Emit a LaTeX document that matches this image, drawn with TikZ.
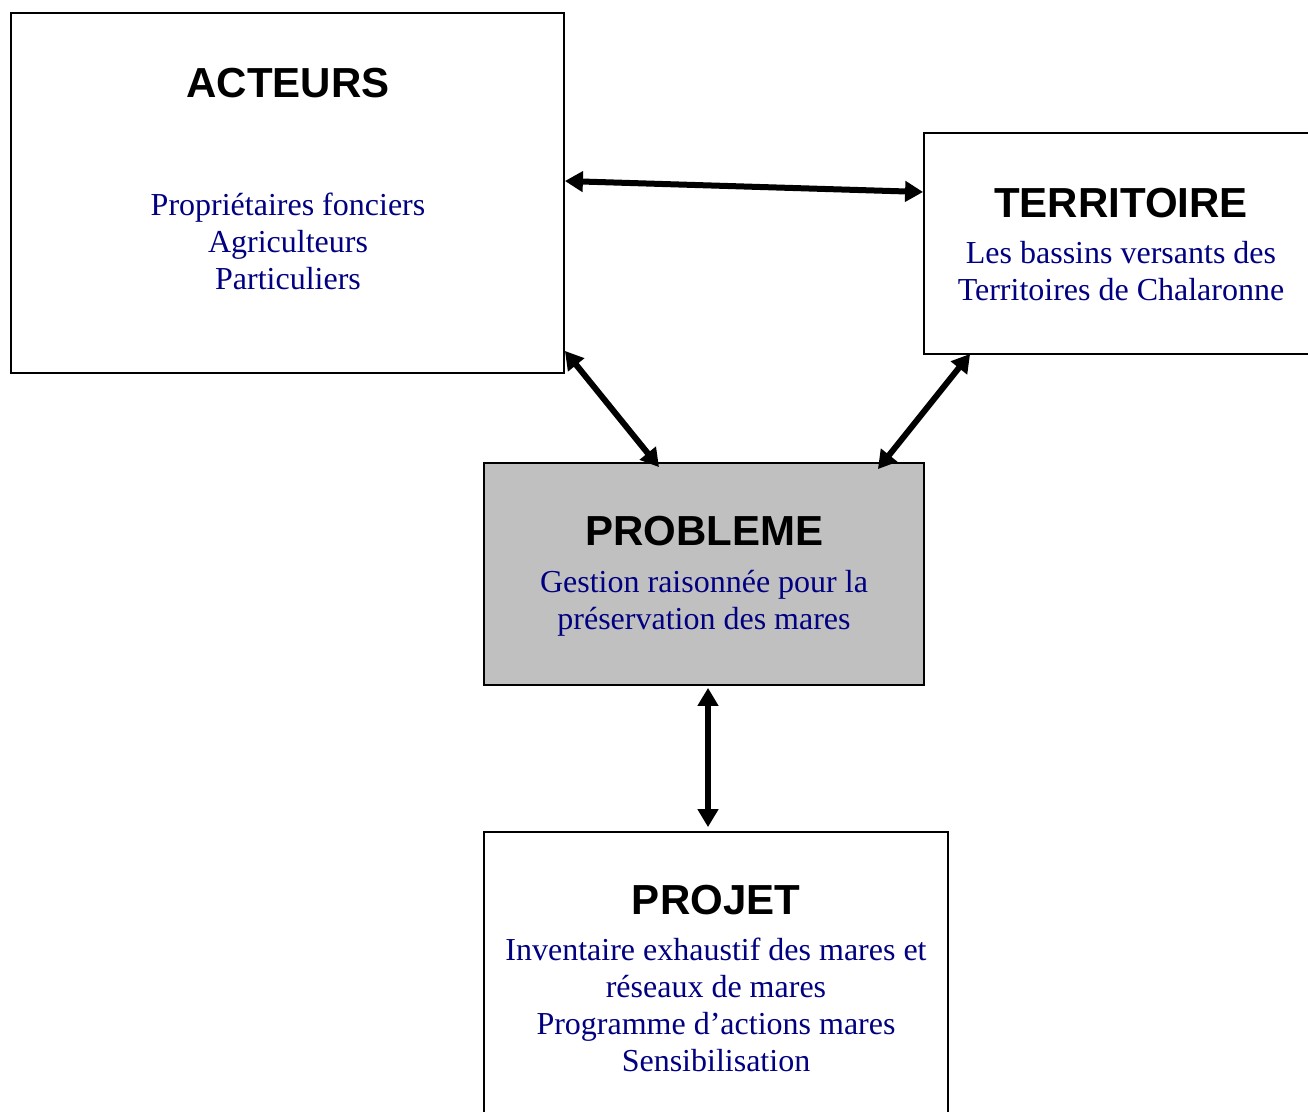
\documentclass[tikz,border=0pt]{standalone}
\usepackage{fontspec}
\setmainfont{Liberation Serif}
\newfontfamily\titrefont{Liberation Sans}
\usetikzlibrary{arrows.meta}
\definecolor{texteBleu}{RGB}{0,0,128}
\definecolor{fondGris}{RGB}{192,192,192}
\tikzset{
  cadre/.style={draw=black, line width=1.8pt, inner sep=0pt},
  titre/.style={font=\titrefont\bfseries\fontsize{42}{48}\selectfont, anchor=base, inner sep=0pt},
  texte/.style={font=\fontsize{32}{37}\selectfont, text=texteBleu, align=center, anchor=base, inner sep=0pt},
  fleche/.style={line width=6pt, {Triangle[length=18pt,width=20pt]}-{Triangle[length=18pt,width=20pt]}}
}
\begin{document}
\begin{tikzpicture}[x=1pt, y=-1pt]
\useasboundingbox (0,0) rectangle (1308,1111);
% Boxes
\node[cadre, minimum width=553pt, minimum height=360pt] (acteurs) at (287.5,193) {};
\node[cadre, minimum width=396pt, minimum height=221pt] (territoire) at (1122,243.5) {};
\node[cadre, fill=fondGris, minimum width=440pt, minimum height=222pt] (probleme) at (704,574) {};
\node[cadre, minimum width=464pt, minimum height=298pt] (projet) at (716,981) {};
% Titles
\node[titre] (acteursTitre) at (288,97) {ACTEURS};
\node[titre] (territoireTitre) at (1121,217) {TERRITOIRE};
\node[titre] (problemeTitre) at (704,545) {PROBLEME};
\node[titre] (projetTitre) at (716,914) {PROJET};
% Texts (base = last line)
\node[texte] (acteursTexte) at (288,289) {Propriétaires fonciers\\Agriculteurs\\Particuliers};
\node[texte] (territoireTexte) at (1121,300) {Les bassins versants des\\Territoires de Chalaronne};
\node[texte] (problemeTexte) at (704,629) {Gestion raisonnée pour la\\préservation des mares};
\node[texte] (projetTexte) at (716,1071) {Inventaire exhaustif des mares et\\réseaux de mares\\Programme d’actions mares\\Sensibilisation};
% Arrows
\draw[fleche] ([yshift=12pt]acteurs.east) -- ([yshift=51.5pt]territoire.west);
\draw[fleche] ([yshift=23pt]acteurs.south east) -- ([xshift=-45pt,yshift=-5pt]probleme.north);
\draw[fleche] ([xshift=47pt,yshift=1pt]territoire.south west) -- ([xshift=-47pt,yshift=-7pt]probleme.north east);
\draw[fleche] ([xshift=4pt,yshift=-2pt]probleme.south) -- ([xshift=-8pt,yshift=4pt]projet.north);
\end{tikzpicture}
\end{document}
